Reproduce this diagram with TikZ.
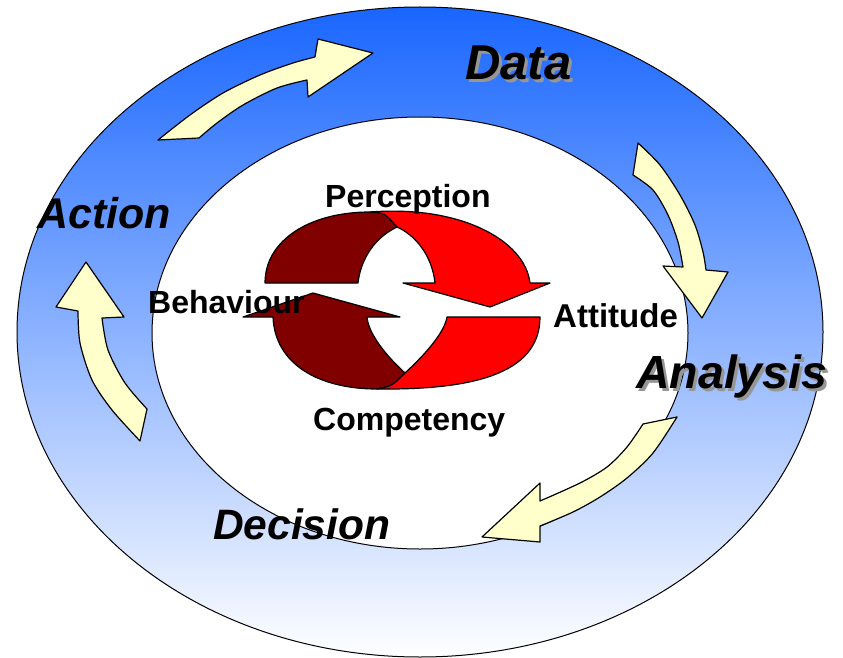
\documentclass[tikz,border=0pt]{standalone}
\usepackage{fontspec}
\setmainfont{Liberation Sans}
\definecolor{ringtop}{RGB}{25,102,255}
\definecolor{ringmid}{RGB}{135,165,255}
\definecolor{ringbot}{RGB}{255,255,255}
\definecolor{arrowyellow}{RGB}{255,255,204}
\definecolor{darkred}{RGB}{128,0,0}
\definecolor{shadowgray}{RGB}{150,150,150}
\tikzset{
  yellowarrow/.style={fill=arrowyellow, draw=black, line width=1.2pt, line join=round},
  redpart/.style={draw=black, line width=1.2pt, line join=round},
  ringlabel/.style={anchor=base west, inner sep=0pt, font=\fontsize{#1}{#1}\selectfont\bfseries\itshape},
  innerlabel/.style={anchor=base west, inner sep=0pt, font=\fontsize{#1}{#1}\selectfont\bfseries},
}
\begin{document}
\begin{tikzpicture}[x=1pt,y=-1pt]
\useasboundingbox (0,0) rectangle (843,658);

% 外环
\shadedraw[top color=ringtop, middle color=ringmid, bottom color=ringbot, draw=black, line width=1pt] (420,332) ellipse [x radius=403pt, y radius=325pt];
% 内环
\draw[fill=white, line width=1pt] (420,333) ellipse [x radius=268pt, y radius=216pt];

% 黄色箭头
% Action -> Data
\draw[yellowarrow] plot[smooth] coordinates {(158,140) (190,115) (223,93) (260,75) (293,63) (315,57)}
  -- (318,39) -- (373,53) -- (308,97) -- (307,80)
  -- plot[smooth] coordinates {(307,80) (277,88) (243,105) (217,123) (199,138)} -- cycle;
% Data -> Analysis
\draw[yellowarrow] plot[smooth] coordinates {(638,143) (660,165) (680,195) (695,225) (703,252) (706,270)}
  -- (728,272) -- (702,318) -- (663,266) -- (683,267)
  -- plot[smooth] coordinates {(683,267) (678,242) (668,215) (653,190) (633,175)} -- cycle;
% Analysis -> Decision
\draw[yellowarrow] plot[smooth] coordinates {(677,417) (653,453) (627,478) (600,497) (573,512) (540,526)}
  -- (540,542) -- (482,537) -- (540,483) -- (540,501)
  -- plot[smooth] coordinates {(540,501) (580,483) (607,467) (627,447) (643,424)} -- cycle;
% Decision -> Action
\draw[yellowarrow] plot[smooth] coordinates {(78,311) (80,343) (92,380) (112,410) (140,441)}
  -- (147,409)
  -- plot[smooth] coordinates {(147,409) (125,383) (108,350) (102,318)}
  -- (124,317) -- (86,262) -- (56,307) -- cycle;

% 中间的红色循环箭头
\draw[redpart, fill=darkred] (265,283) .. controls (265,240) and (310,212) .. (370,212) .. controls (385,213) .. (397,227) .. controls (370,240) and (360,265) .. (358,283) -- cycle;
\draw[redpart, fill=red] (370,212) .. controls (460,205) and (525,240) .. (530,283) -- (550,283) -- (490,307) -- (403,283) -- (435,283) .. controls (432,255) and (415,235) .. (397,227) .. controls (385,213) .. (370,212) -- cycle;
\draw[redpart, fill=darkred] (273,317) .. controls (275,365) and (320,389) .. (377,389) .. controls (392,386) .. (405,373) .. controls (380,350) and (368,330) .. (367,317) -- (400,317) -- (313,293) -- (243,317) -- cycle;
\draw[redpart, fill=red] (447,317) -- (540,317) .. controls (540,375) and (470,390) .. (377,389) .. controls (392,386) .. (405,373) .. controls (430,350) and (445,330) .. (447,317) -- cycle;

% 内圈文字
\node[innerlabel=32] (perception) at (325,207) {Perception};
\node[innerlabel=32] (behaviour) at (148,313) {Behaviour};
\node[innerlabel=33] (attitude) at (553,327) {Attitude};
\node[innerlabel=32] (competency) at (313,430) {Competency};

% 外圈文字
\node[ringlabel=49, text=shadowgray] (datashadow) at (468,83) {Data};
\node[ringlabel=49] (data) at (465,80) {Data};
\node[ringlabel=43] (action) at (37,228) {Action};
\node[ringlabel=46.5, text=shadowgray] (analysisshadow) at (639,391) {Analysis};
\node[ringlabel=46.5] (analysis) at (636,388) {Analysis};
\node[ringlabel=42.5] (decision) at (213,539) {Decision};

\end{tikzpicture}
\end{document}
